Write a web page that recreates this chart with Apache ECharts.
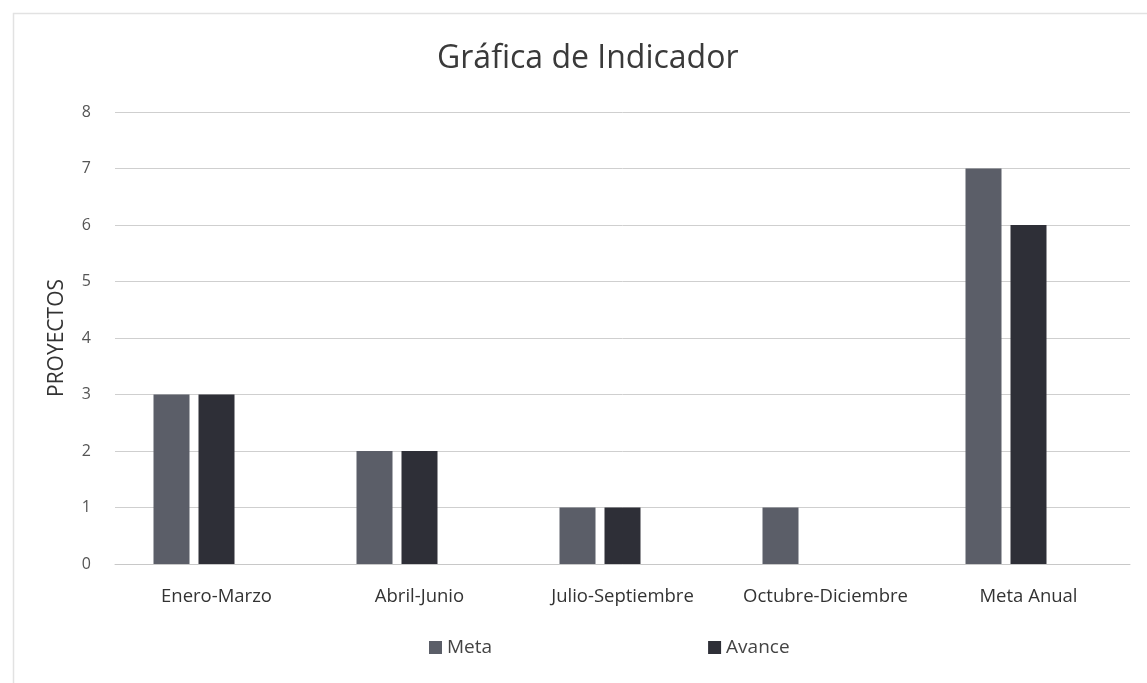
<!DOCTYPE html>
<html>
<head>
<meta charset="utf-8">
<script src="https://cdn.jsdelivr.net/npm/echarts@6/dist/echarts.min.js"></script>
<style>html,body{margin:0;padding:0;background:#fff}#c{width:1147px;height:683px}</style>
</head>
<body>
<div id="c"></div>
<script>
const categories = ['Enero-Marzo', 'Abril-Junio', 'Julio-Septiembre', 'Octubre-Diciembre', 'Meta Anual'];
const meta = [3, 2, 1, 1, 7];
const avance = [3, 2, 1, null, 6];
const emptySeries = [null, null, null, null, null];
const yTicks = [0, 1, 2, 3, 4, 5, 6, 7, 8];

const chart = echarts.init(document.getElementById('c'));
const font = '"Open Sans", Lato, sans-serif';
chart.setOption({
  animation: false,
  backgroundColor: '#fff',
  graphic: [{
    type: 'rect', left: 11, top: 11,
    shape: { width: 1150, height: 690 },
    style: { fill: 'none', stroke: '#e2e2e2', lineWidth: 1.5 }
  }],
  title: {
    text: 'Gráfica de Indicador',
    left: 432, top: 38,
    textStyle: { fontFamily: font, fontSize: 32, fontWeight: 'normal', color: '#3a3a3a' }
  },
  legend: {
    data: ['Meta', 'Avance'],
    top: 633, left: 424,
    itemWidth: 13, itemHeight: 13, itemGap: 216,
    icon: 'rect',
    textStyle: { fontFamily: font, fontSize: 19, color: '#444' }
  },
  grid: { left: 115, right: 17, top: 112, bottom: 119, containLabel: false },
  xAxis: {
    type: 'category',
    data: categories,
    axisLine: { lineStyle: { color: '#c8c8c8', width: 1 } },
    axisTick: { show: false },
    axisLabel: { interval: 0, fontFamily: font, fontSize: 18.5, color: '#333', margin: 23 }
  },
  yAxis: {
    type: 'value',
    min: yTicks[0], max: yTicks[yTicks.length - 1], interval: 1,
    name: 'PROYECTOS',
    nameLocation: 'middle', nameGap: 47,
    nameTextStyle: { fontFamily: font, fontSize: 21, color: '#333' },
    axisLine: { show: false },
    axisTick: { show: false },
    axisLabel: { fontFamily: font, fontSize: 16, color: '#555', margin: 24 },
    splitLine: { lineStyle: { color: '#cfcfcf', width: 1 } }
  },
  series: [
    { name: 'Meta', type: 'bar', data: meta, barWidth: 36, barGap: '25%',
      itemStyle: { color: '#5b5e68' } },
    { name: 'Avance', type: 'bar', data: avance, barWidth: 36, barGap: '25%',
      itemStyle: { color: '#2e2f37' } },
    { name: ' ', type: 'bar', data: emptySeries, barWidth: 36, barGap: '25%' }
  ]
});
</script>
</body>
</html>
